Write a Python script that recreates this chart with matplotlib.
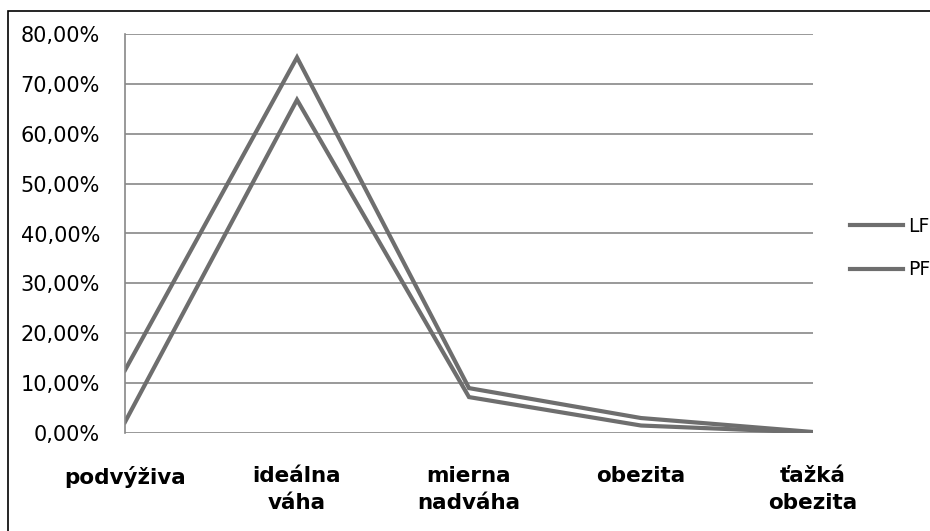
import matplotlib.pyplot as plt
from matplotlib.patches import Rectangle
from matplotlib.ticker import FuncFormatter

plt.rcParams['font.family'] = ['DejaVu Sans']

kategorie = ['podvýživa', 'ideálna\nváha', 'mierna\nnadváha', 'obezita', 'ťažká\nobezita']
lf = [12.6, 75.3, 9.0, 3.0, 0.2]
pf = [2.2, 66.8, 7.2, 1.5, 0.1]

W, H = 930, 531
fig = plt.figure(figsize=(W / 100, H / 100), dpi=100)
ax = fig.add_axes([125 / W, (H - 433) / H, (813 - 125) / W, (433 - 34) / H])

x = range(len(kategorie))
sivá = '#6e6e6e'
ax.plot(x, lf, color=sivá, lw=3, label='LF', solid_joinstyle='miter')
ax.plot(x, pf, color=sivá, lw=3, label='PF', solid_joinstyle='miter')

ax.set_xlim(0, 4)
ax.set_ylim(0, 80)
ax.set_yticks(range(0, 81, 10))
ax.yaxis.set_major_formatter(FuncFormatter(lambda v, p: f'{v:.2f}%'.replace('.', ',')))
ax.set_xticks(list(x))
ax.set_xticklabels(kategorie, fontweight='bold', fontsize=15.5, linespacing=1.4, va='top')
ax.tick_params(axis='y', length=0, pad=18, labelsize=15)
ax.tick_params(axis='x', length=0, pad=24)
ax.grid(axis='y', color='#888888', lw=1.2)
ax.set_axisbelow(True)
for s in ['top', 'right', 'bottom']:
    ax.spines[s].set_visible(False)
ax.spines['left'].set_color('#888888')
ax.spines['left'].set_linewidth(1.2)

ax.legend(loc='center left', bbox_to_anchor=(850 / W, (H - 248) / H), bbox_transform=fig.transFigure,
          frameon=False, fontsize=13.5, handlelength=2.8, handletextpad=0.3, labelspacing=1.3,
          borderpad=0, borderaxespad=0)

fig.patches.append(Rectangle((8 / W, -0.1), 1.2, 1 - 11 / H + 0.1, transform=fig.transFigure,
                             fill=False, edgecolor='black', lw=1.2))

fig.savefig('out.png', dpi=100, facecolor='white')
